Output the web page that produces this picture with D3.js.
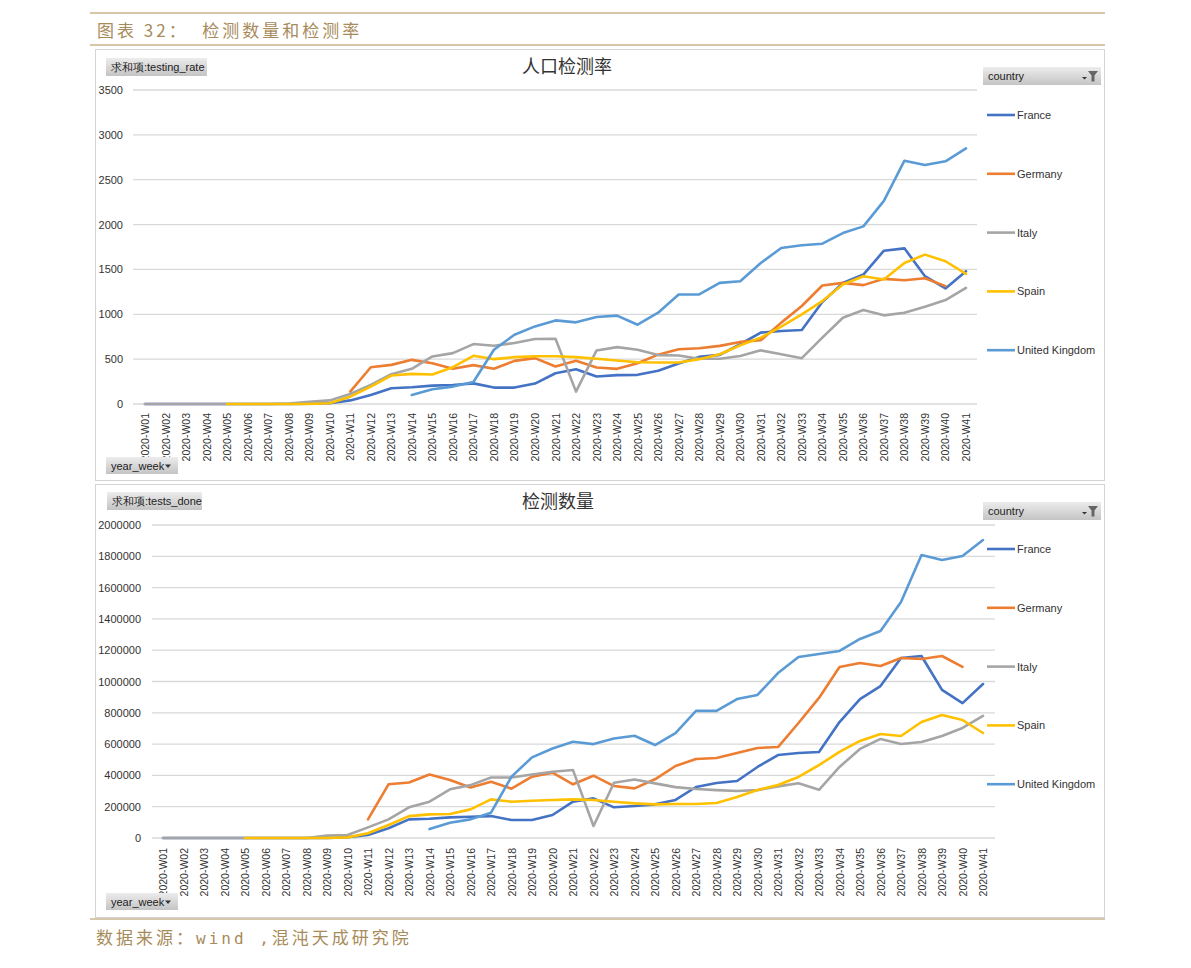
<!DOCTYPE html>
<html>
<head>
<meta charset="utf-8">
<script src="https://cdn.jsdelivr.net/npm/d3@7"></script>
<style>
    body { margin: 0; background: #fff; }
    svg { display: block; }
    .cn { font-family: "Noto Sans CJK SC", sans-serif; }
    .xl { font-family: "Liberation Sans", Arial, sans-serif; }
</style>
</head>
<body>
<svg id="page" width="1191" height="968"></svg>
<script>
// weekly testing data, 2020-W01 .. 2020-W41 (null = no data that week)
const weeks = d3.range(1, 42).map(n => `2020-W${String(n).padStart(2, '0')}`);
const countries = ["France", "Germany", "Italy", "Spain", "United Kingdom"];
const colors = ["#4472C4", "#ED7D31", "#A5A5A5", "#FFC000", "#5B9BD5"];

const N = null;
// testing_rate
const rateFrance = [0,0,0,0,0,0,0,0,2,8,40,100,175,186,205,212,230,183,183,228,343,388,306,322,325,370,451,525,548,666,796,814,825,1136,1350,1443,1709,1735,1425,1288,1480];
const rateGermany = [N,N,N,N,N,N,N,N,N,N,138,410,436,492,455,392,433,392,481,511,418,481,407,392,455,550,611,622,648,692,710,907,1092,1321,1350,1325,1395,1380,1402,1314,N];
const rateItaly = [0,0,0,0,0,0,0,5,25,40,112,213,332,392,530,567,668,649,679,724,727,138,597,634,604,545,540,505,505,535,598,555,511,740,962,1047,988,1018,1084,1158,1295];
const rateSpain = [N,N,N,N,0,0,0,0,0,8,82,194,317,336,328,410,537,500,522,533,533,522,504,485,466,462,462,500,555,655,740,862,999,1147,1332,1424,1387,1572,1665,1591,1450];
const rateUK = [N,N,N,N,N,N,N,N,N,N,N,N,N,100,164,194,246,604,772,865,932,910,970,985,884,1018,1221,1221,1350,1369,1572,1739,1769,1787,1905,1980,2264,2712,2664,2705,2849];

// tests_done
const testsFrance = [0,0,0,0,0,0,0,0,0,5000,19000,62000,119000,123000,132000,136000,140000,115000,115000,147000,232000,253000,196000,204000,215000,243000,326000,351000,364000,454000,530000,543000,550000,741000,888000,971000,1150000,1163000,946000,862000,984000];
const testsGermany = [N,N,N,N,N,N,N,N,N,N,119000,343000,355000,406000,370000,323000,360000,315000,392000,417000,343000,398000,332000,317000,375000,460000,505000,511000,543000,575000,581000,735000,895000,1093000,1118000,1099000,1150000,1144000,1163000,1093000,N];
const testsItaly = [0,0,0,0,0,0,0,0,15000,19000,68000,119000,196000,232000,311000,338000,387000,387000,406000,423000,434000,77000,353000,374000,349000,325000,313000,306000,300000,306000,330000,350000,308000,454000,569000,633000,601000,613000,652000,703000,780000];
const testsSpain = [N,N,N,N,0,0,0,0,0,4000,30000,83000,140000,151000,153000,183000,247000,232000,238000,243000,247000,243000,232000,221000,215000,217000,217000,224000,262000,307000,339000,390000,466000,550000,620000,665000,652000,741000,786000,754000,671000];
const testsUK = [N,N,N,N,N,N,N,N,N,N,N,N,N,57000,98000,119000,162000,392000,515000,572000,615000,600000,636000,653000,594000,670000,812000,812000,888000,914000,1054000,1157000,1176000,1195000,1272000,1323000,1508000,1808000,1776000,1802000,1904000];

const rateTicks = [0, 500, 1000, 1500, 2000, 2500, 3000, 3500];
const testsTicks = d3.range(0, 2000001, 200000);

const svg = d3.select("#page");
const gold = "#C9B48E";
const goldText = "#A88B5A";

const defs = svg.append("defs");
const grad = defs.append("linearGradient")
    .attr("id", "btn")
    .attr("x1", 0).attr("y1", 0).attr("x2", 0).attr("y2", 1);
grad.append("stop").attr("offset", "0%").attr("stop-color", "#ececec");
grad.append("stop").attr("offset", "100%").attr("stop-color", "#c4c4c4");

// page header / footer
svg.append("line").attr("x1", 90).attr("x2", 1105).attr("y1", 13).attr("y2", 13)
    .attr("stroke", gold).attr("stroke-width", 1.5);
svg.append("line").attr("x1", 90).attr("x2", 1105).attr("y1", 45).attr("y2", 45)
    .attr("stroke", gold).attr("stroke-width", 1.5);
svg.append("text").attr("class", "cn")
    .attr("x", 97).attr("y", 37)
    .attr("font-size", 17).attr("fill", goldText)
    .attr("letter-spacing", 3)
    .attr("xml:space", "preserve")
    .text("图表 32：  检测数量和检测率");

svg.append("line").attr("x1", 90).attr("x2", 1105).attr("y1", 919).attr("y2", 919)
    .attr("stroke", gold).attr("stroke-width", 1.5);
const foot = svg.append("text").attr("class", "cn")
    .attr("x", 96).attr("y", 944)
    .attr("font-size", 17).attr("fill", goldText)
    .attr("letter-spacing", 3)
    .attr("xml:space", "preserve");
foot.append("tspan").text("数据来源：");
foot.append("tspan").attr("font-family", "DejaVu Sans Mono, monospace").attr("font-size", 16).text("wind ,");
foot.append("tspan").text("混沌天成研究院");

function button(g, x, y, w, h, label, filter) {
    g.append("rect").attr("x", x).attr("y", y).attr("width", w).attr("height", h)
        .attr("fill", "url(#btn)");
    g.append("text").attr("class", "xl")
        .attr("x", x + 5).attr("y", y + h / 2)
        .attr("dominant-baseline", "central")
        .attr("font-size", 11).attr("fill", "#222")
        .text(label);
    if (filter === "funnel") {
        const fx = x + w - 14;
        g.append("path").attr("d", `M${fx - 5},${y + h / 2 + 1}h5l-2.5,2.5z`).attr("fill", "#333");
        g.append("path")
            .attr("d", `M${fx + 1},${y + 4}h10l-3.5,4.5v6h-3v-6z`)
            .attr("fill", "#666");
    } else if (filter === "arrow") {
        const fx = x + w - 10;
        g.append("path").attr("d", `M${fx - 3},${y + h / 2 - 1}h6l-3,3.5z`).attr("fill", "#333");
    }
}

function drawChart(cfg) {
    const g = svg.append("g");

    // frame
    g.append("rect")
        .attr("x", 95.5).attr("y", cfg.top + 0.5)
        .attr("width", 1009).attr("height", cfg.height)
        .attr("fill", "#fff").attr("stroke", "#d4d4d4");

    const x = d3.scalePoint().domain(weeks).range([cfg.x0, cfg.x1]);
    const y = d3.scaleLinear().domain([0, cfg.max]).range([cfg.y0, cfg.y1]);

    // gridlines
    g.append("g").selectAll("line")
        .data(cfg.ticks)
        .join("line")
        .attr("x1", cfg.gridL).attr("x2", cfg.gridR)
        .attr("y1", d => y(d)).attr("y2", d => y(d))
        .attr("stroke", "#d9d9d9").attr("stroke-width", 1.3);

    const yAxis = g.append("g")
        .attr("class", "xl")
        .attr("transform", `translate(${cfg.labelR},0)`)
        .call(d3.axisLeft(y).tickValues(cfg.ticks).tickSize(0).tickPadding(0).tickFormat(d3.format("d")));
    yAxis.select(".domain").remove();
    yAxis.selectAll("text").attr("font-size", 11).attr("fill", "#333")
        .attr("font-family", "Liberation Sans, Arial, sans-serif");

    // x labels, rotated
    g.append("g").selectAll("text")
        .data(weeks)
        .join("text")
        .attr("class", "xl")
        .attr("transform", d => `translate(${x(d)},${cfg.labelTop}) rotate(-90)`)
        .attr("text-anchor", "end")
        .attr("dominant-baseline", "central")
        .attr("font-size", 10.5).attr("fill", "#333")
        .text(d => d);

    // series lines
    const line = d3.line()
        .defined(d => d.v !== null)
        .x(d => x(d.w))
        .y(d => y(d.v));

    cfg.series.forEach((vals, i) => {
        g.append("path")
            .datum(weeks.map((w, k) => ({ w: w, v: vals[k] })))
            .attr("d", line)
            .attr("fill", "none")
            .attr("stroke", colors[i])
            .attr("stroke-width", 2.6)
            .attr("stroke-linejoin", "round")
            .attr("stroke-linecap", "round");
    });

    // chart title
    g.append("text").attr("class", "cn")
        .attr("x", cfg.titleX).attr("y", cfg.top + 24)
        .attr("text-anchor", "middle")
        .attr("font-size", 18).attr("fill", "#333")
        .text(cfg.title);

    // legend
    const legend = g.append("g").selectAll("g")
        .data(countries)
        .join("g")
        .attr("transform", (d, i) => `translate(987,${cfg.legendY + i * 58.8})`);
    legend.append("line").attr("x1", 0).attr("x2", 28)
        .attr("stroke", (d, i) => colors[i]).attr("stroke-width", 2.6);
    legend.append("text").attr("class", "xl")
        .attr("x", 30).attr("dominant-baseline", "central")
        .attr("font-size", 11).attr("fill", "#333")
        .text(d => d);

    button(g, cfg.fieldBtn[0], cfg.fieldBtn[1], cfg.fieldBtn[2], 18, cfg.field);
    button(g, 983, cfg.countryBtnY, 118, 18, "country", "funnel");
    button(g, 106, cfg.weekBtnY, 72, 17, "year_week", "arrow");
}

drawChart({
    top: 49, height: 431,
    x0: 145, x1: 966, y0: 404, y1: 90, max: 3500,
    ticks: rateTicks, gridL: 133, gridR: 977, labelR: 123, labelTop: 413,
    series: [rateFrance, rateGermany, rateItaly, rateSpain, rateUK],
    title: "人口检测率", titleX: 567,
    legendY: 115, fieldBtn: [106, 58, 101], field: "求和项:testing_rate",
    countryBtnY: 67, weekBtnY: 457
});

drawChart({
    top: 484, height: 433,
    x0: 163, x1: 983, y0: 838, y1: 525, max: 2000000,
    ticks: testsTicks, gridL: 152, gridR: 995, labelR: 141, labelTop: 848,
    series: [testsFrance, testsGermany, testsItaly, testsSpain, testsUK],
    title: "检测数量", titleX: 558,
    legendY: 549, fieldBtn: [107, 492, 95], field: "求和项:tests_done",
    countryBtnY: 502, weekBtnY: 893
});
</script>
</body>
</html>
